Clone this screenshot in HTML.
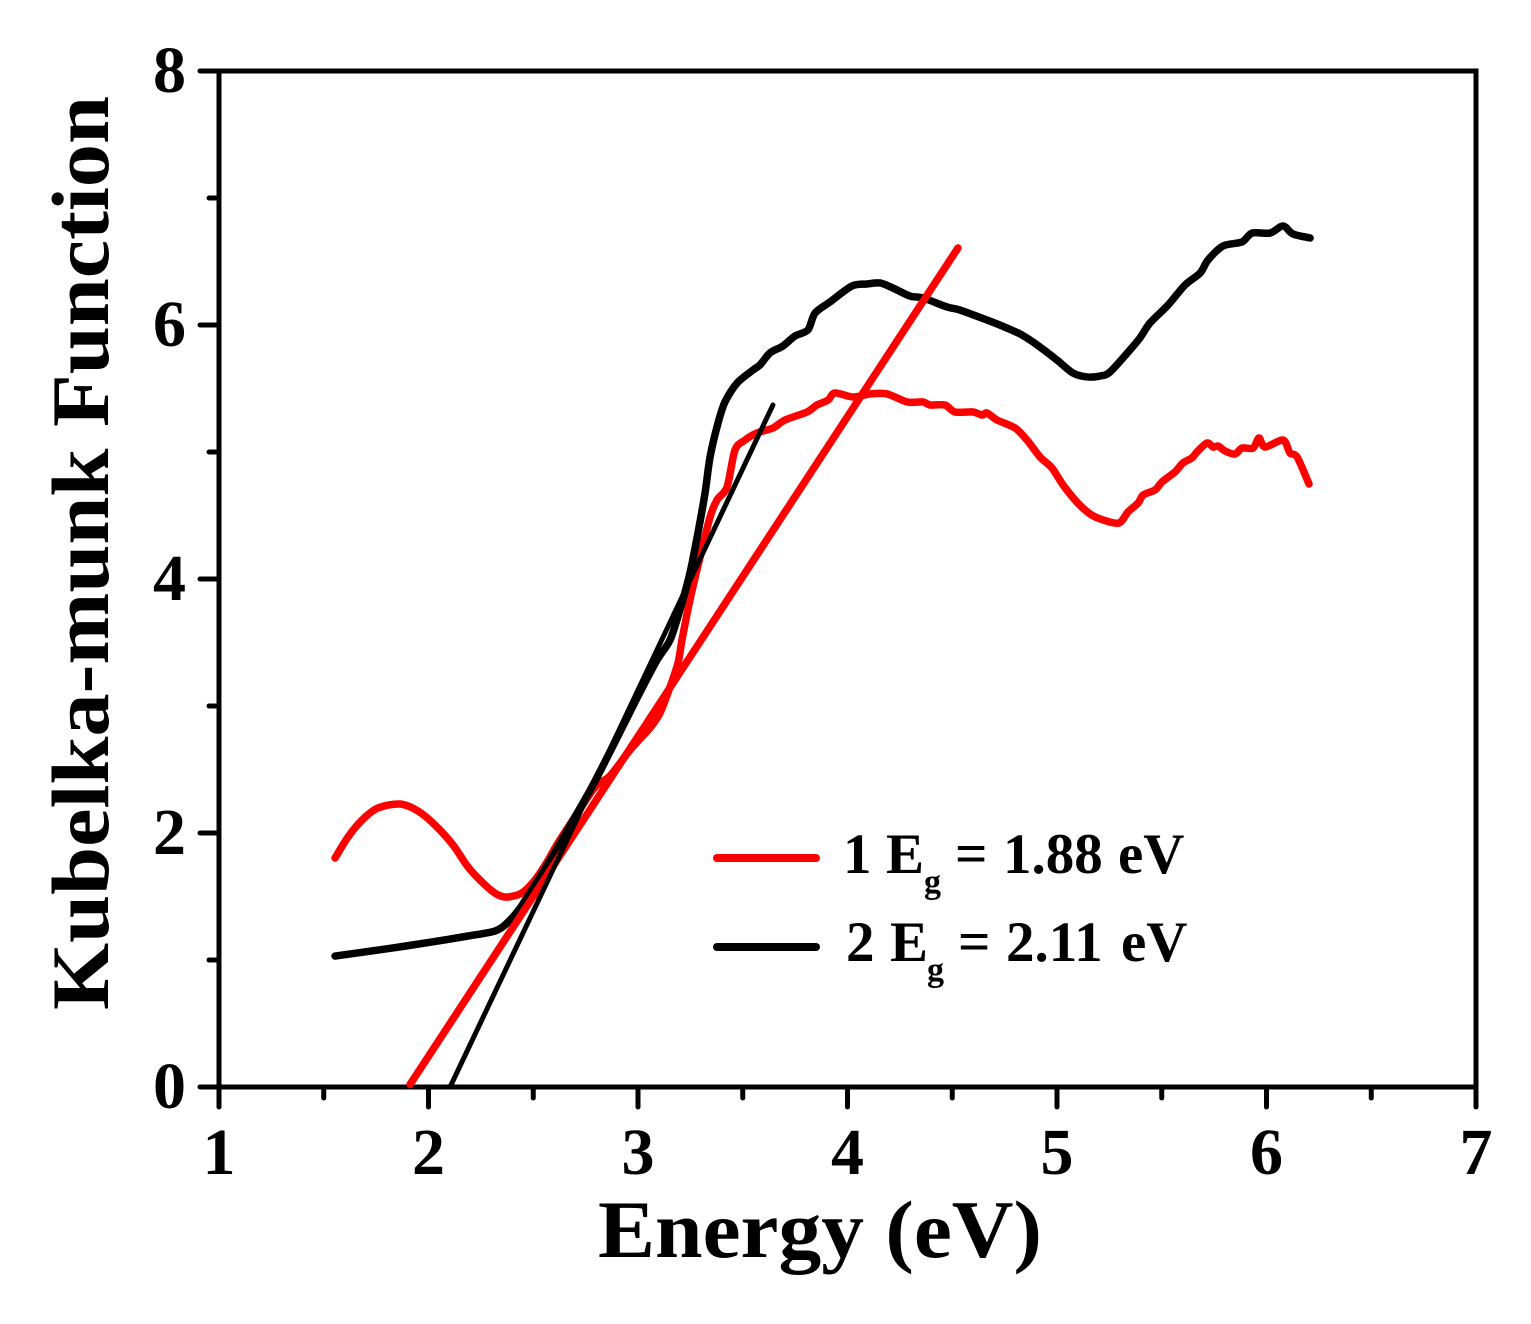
<!DOCTYPE html>
<html>
<head>
<meta charset="utf-8">
<style>
html,body{margin:0;padding:0;background:#fff;}
svg{display:block;}
text{font-family:"Liberation Serif",serif;font-weight:bold;fill:#000;}
</style>
</head>
<body>
<svg id="chart" width="1531" height="1324" viewBox="0 0 1531 1324" xmlns="http://www.w3.org/2000/svg"></svg>
<script>
const xMajorTicks = [1, 2, 3, 4, 5, 6, 7];
const xMinorTicks = [1.5, 2.5, 3.5, 4.5, 5.5, 6.5];
const yMajorTicks = [0, 2, 4, 6, 8];
const yMinorTicks = [1, 3, 5, 7];
const redEnergy = [1.554,1.616,1.683,1.759,1.864,1.950,2.031,2.117,2.189,2.270,2.332,2.379,2.446,2.508,2.566,2.618,2.699,2.795,2.866,2.962,3.057,3.105,3.153,3.191,3.210,3.248,3.296,3.344,3.377,3.425,3.463,3.511,3.568,3.644,3.702,3.807,3.854,3.907,3.940,4.026,4.107,4.189,4.284,4.360,4.394,4.465,4.513,4.599,4.642,4.666,4.714,4.800,4.857,4.919,4.976,5.029,5.095,5.158,5.220,5.296,5.339,5.387,5.411,5.468,5.501,5.563,5.601,5.644,5.668,5.716,5.745,5.769,5.802,5.850,5.883,5.936,5.964,5.993,6.079,6.112,6.146,6.203];
const redValues = [1.803,1.969,2.102,2.197,2.228,2.173,2.063,1.906,1.732,1.591,1.512,1.496,1.528,1.630,1.772,1.921,2.126,2.362,2.449,2.654,2.827,2.945,3.150,3.339,3.520,3.835,4.173,4.488,4.622,4.724,5.016,5.094,5.150,5.189,5.252,5.315,5.370,5.409,5.465,5.433,5.457,5.457,5.394,5.394,5.370,5.370,5.315,5.315,5.291,5.307,5.252,5.189,5.094,4.961,4.874,4.740,4.606,4.512,4.465,4.441,4.528,4.598,4.661,4.701,4.764,4.843,4.913,4.953,5.000,5.071,5.039,5.047,5.008,4.984,5.031,5.031,5.110,5.039,5.094,4.992,4.961,4.748];
const blackEnergy = [1.554,1.826,2.017,2.189,2.317,2.375,2.437,2.523,2.618,2.699,2.780,2.866,2.938,3.010,3.091,3.153,3.200,3.248,3.286,3.320,3.344,3.382,3.415,3.473,3.549,3.582,3.630,3.692,3.749,3.811,3.845,3.916,4.021,4.093,4.155,4.217,4.298,4.360,4.475,4.537,4.666,4.761,4.833,4.905,5.000,5.076,5.143,5.205,5.253,5.348,5.396,5.444,5.530,5.611,5.683,5.721,5.792,5.883,5.931,6.017,6.079,6.126,6.208];
const blackValues = [1.031,1.094,1.142,1.189,1.228,1.291,1.409,1.630,1.890,2.126,2.362,2.638,2.874,3.110,3.362,3.520,3.756,4.047,4.362,4.677,4.961,5.228,5.394,5.543,5.646,5.685,5.780,5.835,5.913,5.961,6.094,6.181,6.307,6.323,6.331,6.291,6.228,6.213,6.142,6.118,6.039,5.976,5.921,5.843,5.724,5.622,5.591,5.598,5.630,5.803,5.898,6.016,6.157,6.315,6.409,6.512,6.622,6.654,6.724,6.724,6.780,6.717,6.685];
const redFitEnergy = [1.912, 4.527];
const redFitValues = [0.02, 6.606];
const blackFitEnergy = [2.103, 3.644];
const blackFitValues = [0, 5.37];

const NS = 'http://www.w3.org/2000/svg';
const svg = document.getElementById('chart');
const sx = v => 219 + (v - 1) * (1476 - 219) / 6;
const sy = v => 1087 - v * (1087 - 71) / 8;

function make(tag, attrs) {
  const el = document.createElementNS(NS, tag);
  for (const k in attrs) el.setAttribute(k, attrs[k]);
  svg.appendChild(el);
  return el;
}
function linePath(xs, ys) {
  return xs.map((x, i) => (i ? 'L' : 'M') + sx(x).toFixed(2) + ' ' + sy(ys[i]).toFixed(2)).join(' ');
}
function splinePath(xs, ys) {
  const p = xs.map((x, i) => [sx(x), sy(ys[i])]);
  const k = 1 / 7;
  let d = 'M' + p[0][0].toFixed(2) + ' ' + p[0][1].toFixed(2);
  for (let i = 0; i < p.length - 1; i++) {
    const a = p[Math.max(i - 1, 0)], b = p[i], c = p[i + 1], e = p[Math.min(i + 2, p.length - 1)];
    const c1x = b[0] + (c[0] - a[0]) * k, c1y = b[1] + (c[1] - a[1]) * k;
    const c2x = c[0] - (e[0] - b[0]) * k, c2y = c[1] - (e[1] - b[1]) * k;
    d += ' C' + c1x.toFixed(2) + ' ' + c1y.toFixed(2) + ' ' + c2x.toFixed(2) + ' ' + c2y.toFixed(2) + ' ' + c[0].toFixed(2) + ' ' + c[1].toFixed(2);
  }
  return d;
}
const tickStyle = {stroke: '#000', 'stroke-width': 5, 'stroke-linecap': 'round'};

xMajorTicks.forEach(t => {
  const tick = make('line', {x1: sx(t), x2: sx(t), y1: 1087, y2: 1107, ...tickStyle});
  
  
  const label = make('text', {x: sx(t), y: 1174, 'font-size': 66, 'text-anchor': 'middle'});
  label.textContent = t;
  
  
});
xMinorTicks.forEach(t => {
  const tick = make('line', {x1: sx(t), x2: sx(t), y1: 1087, y2: 1098, ...tickStyle});
  
  
});
yMajorTicks.forEach(t => {
  const tick = make('line', {x1: 200, x2: 219, y1: sy(t), y2: sy(t), ...tickStyle});
  
  
  const label = make('text', {x: 186, y: sy(t) + 21, 'font-size': 66, 'text-anchor': 'end'});
  label.textContent = t;
  
  
});
yMinorTicks.forEach(t => {
  const tick = make('line', {x1: 209, x2: 219, y1: sy(t), y2: sy(t), ...tickStyle});
  
  
});

const frame = make('rect', {x: sx(1), y: sy(8), width: sx(7) - sx(1), height: sy(0) - sy(8), fill: 'none', stroke: '#000', 'stroke-width': 5});



const redLine = make('path', {d: splinePath(redEnergy, redValues), fill: 'none', stroke: '#f00', 'stroke-width': 7.5, 'stroke-linejoin': 'round', 'stroke-linecap': 'round'});



const blackLine = make('path', {d: splinePath(blackEnergy, blackValues), fill: 'none', stroke: '#000', 'stroke-width': 7.5, 'stroke-linejoin': 'round', 'stroke-linecap': 'round'});



const redFit = make('path', {d: linePath(redFitEnergy, redFitValues), fill: 'none', stroke: '#f00', 'stroke-width': 7.5, 'stroke-linecap': 'round'});



const blackFit = make('path', {d: linePath(blackFitEnergy, blackFitValues), fill: 'none', stroke: '#000', 'stroke-width': 5, 'stroke-linecap': 'round'});


</script>
<svg style="position:absolute;left:0;top:0" width="1531" height="1324" viewBox="0 0 1531 1324" xmlns="http://www.w3.org/2000/svg">
  <text x="820" y="1257" font-size="82" text-anchor="middle" textLength="444" lengthAdjust="spacingAndGlyphs">Energy (eV)</text>
  <text transform="translate(108,1010) rotate(-90)" font-size="82" textLength="914" lengthAdjust="spacingAndGlyphs">Kubelka-munk Function</text>
  <line x1="717" y1="858" x2="816" y2="858" stroke="#f00" stroke-width="8" stroke-linecap="round"/>
  <text y="873" font-size="57"><tspan x="843">1</tspan><tspan x="886">E</tspan><tspan x="924" y="893" font-size="34">g</tspan><tspan x="955" y="873">=</tspan><tspan x="1003">1.88</tspan><tspan x="1118">eV</tspan></text>
  <line x1="717" y1="947" x2="816" y2="947" stroke="#000" stroke-width="8" stroke-linecap="round"/>
  <text y="961" font-size="57"><tspan x="846">2</tspan><tspan x="890">E</tspan><tspan x="927" y="981" font-size="34">g</tspan><tspan x="958" y="961">=</tspan><tspan x="1006">2.11</tspan><tspan x="1121">eV</tspan></text>
</svg>
</body>
</html>
